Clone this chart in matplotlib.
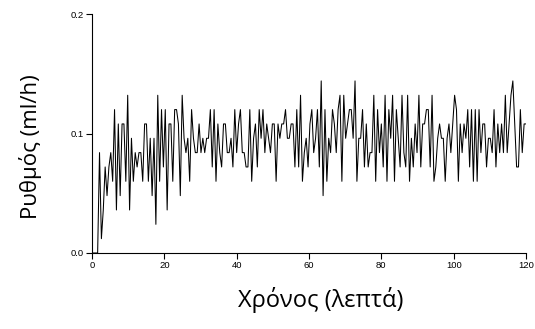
import numpy as np
import matplotlib
matplotlib.use("Agg")
import matplotlib.pyplot as plt

# Infusion rate (ml/h) sampled roughly every half minute over 120 minutes
rate_0_20 = [0, 0, 0, 0, 0.084, 0.012, 0.036, 0.072, 0.048, 0.072,
             0.084, 0.06, 0.12, 0.036, 0.108, 0.048, 0.108, 0.108, 0.06, 0.132,
             0.036, 0.096, 0.06, 0.084, 0.072, 0.084, 0.084, 0.06, 0.108, 0.108,
             0.06, 0.096, 0.048, 0.096, 0.024, 0.132, 0.06, 0.12, 0.072, 0.12]
rate_20_40 = [0.036, 0.108, 0.108, 0.06, 0.12, 0.12, 0.108, 0.048, 0.132, 0.096,
              0.084, 0.096, 0.06, 0.12, 0.096, 0.084, 0.084, 0.108, 0.084, 0.096,
              0.084, 0.096, 0.096, 0.12, 0.072, 0.12, 0.06, 0.108, 0.084, 0.072,
              0.108, 0.108, 0.084, 0.084, 0.096, 0.072, 0.12, 0.084, 0.108, 0.12]
rate_40_60 = [0.084, 0.084, 0.072, 0.072, 0.12, 0.06, 0.096, 0.108, 0.072, 0.12,
              0.096, 0.12, 0.084, 0.108, 0.096, 0.084, 0.108, 0.108, 0.06, 0.108,
              0.096, 0.108, 0.108, 0.12, 0.096, 0.096, 0.108, 0.108, 0.072, 0.12,
              0.072, 0.132, 0.06, 0.084, 0.096, 0.072, 0.108, 0.12, 0.084, 0.096]
rate_60_80 = [0.12, 0.072, 0.144, 0.048, 0.12, 0.06, 0.096, 0.084, 0.12, 0.108,
              0.084, 0.12, 0.132, 0.06, 0.132, 0.096, 0.108, 0.12, 0.12, 0.096,
              0.144, 0.06, 0.096, 0.096, 0.12, 0.072, 0.108, 0.072, 0.084, 0.084,
              0.132, 0.06, 0.12, 0.084, 0.108, 0.072, 0.132, 0.06, 0.12, 0.096]
rate_80_100 = [0.132, 0.06, 0.12, 0.096, 0.072, 0.132, 0.084, 0.072, 0.132, 0.06,
               0.096, 0.072, 0.108, 0.084, 0.132, 0.072, 0.108, 0.108, 0.12, 0.12,
               0.072, 0.132, 0.06, 0.072, 0.096, 0.108, 0.096, 0.096, 0.06, 0.096,
               0.108, 0.084, 0.108, 0.132, 0.12, 0.06, 0.108, 0.084, 0.108, 0.096]
rate_100_120 = [0.12, 0.072, 0.12, 0.06, 0.12, 0.06, 0.12, 0.084, 0.108, 0.108,
                0.072, 0.096, 0.096, 0.084, 0.12, 0.072, 0.108, 0.084, 0.108, 0.084,
                0.132, 0.084, 0.108, 0.132, 0.144, 0.108, 0.072, 0.072, 0.12, 0.084,
                0.108, 0.108]

x_ticks = [0, 20, 40, 60, 80, 100, 120]
y_ticks = [0.0, 0.1, 0.2]
x_label = "Χρόνος (λεπτά)"
y_label = "Ρυθμός (ml/h)"

rate = np.array(rate_0_20 + rate_20_40 + rate_40_60 + rate_60_80 + rate_80_100 + rate_100_120)
time_min = np.linspace(0, 120, len(rate))

plt.rcParams['font.family'] = ['Liberation Sans', 'DejaVu Sans']

fig = plt.figure(figsize=(5.35, 3.29), dpi=100)
ax = fig.add_axes([92/535, 1-253/329, (526-92)/535, (253-14)/329])
ax.plot(time_min, rate, color='black', lw=0.75)

ax.set_xlim(0, 120)
ax.set_ylim(0, 0.2)
ax.set_xticks(x_ticks)
ax.set_yticks(y_ticks)
ax.set_yticklabels([f"{v:.1f}" for v in y_ticks])
for s in ['top', 'right']:
    ax.spines[s].set_visible(False)
for s in ['left', 'bottom']:
    ax.spines[s].set_linewidth(0.8)
ax.tick_params(direction='out', length=4, width=0.8, labelsize=6.8, pad=2)

fig.text(321/535, 1-300/329, x_label, ha='center', va='center', fontsize=17,
         family=['Open Sans', 'DejaVu Sans'])
fig.text(30/535, 1-147/329, y_label, ha='center', va='center', rotation=90,
         fontsize=16, family=['Open Sans', 'DejaVu Sans'])

fig.savefig("out.png", dpi=100)
